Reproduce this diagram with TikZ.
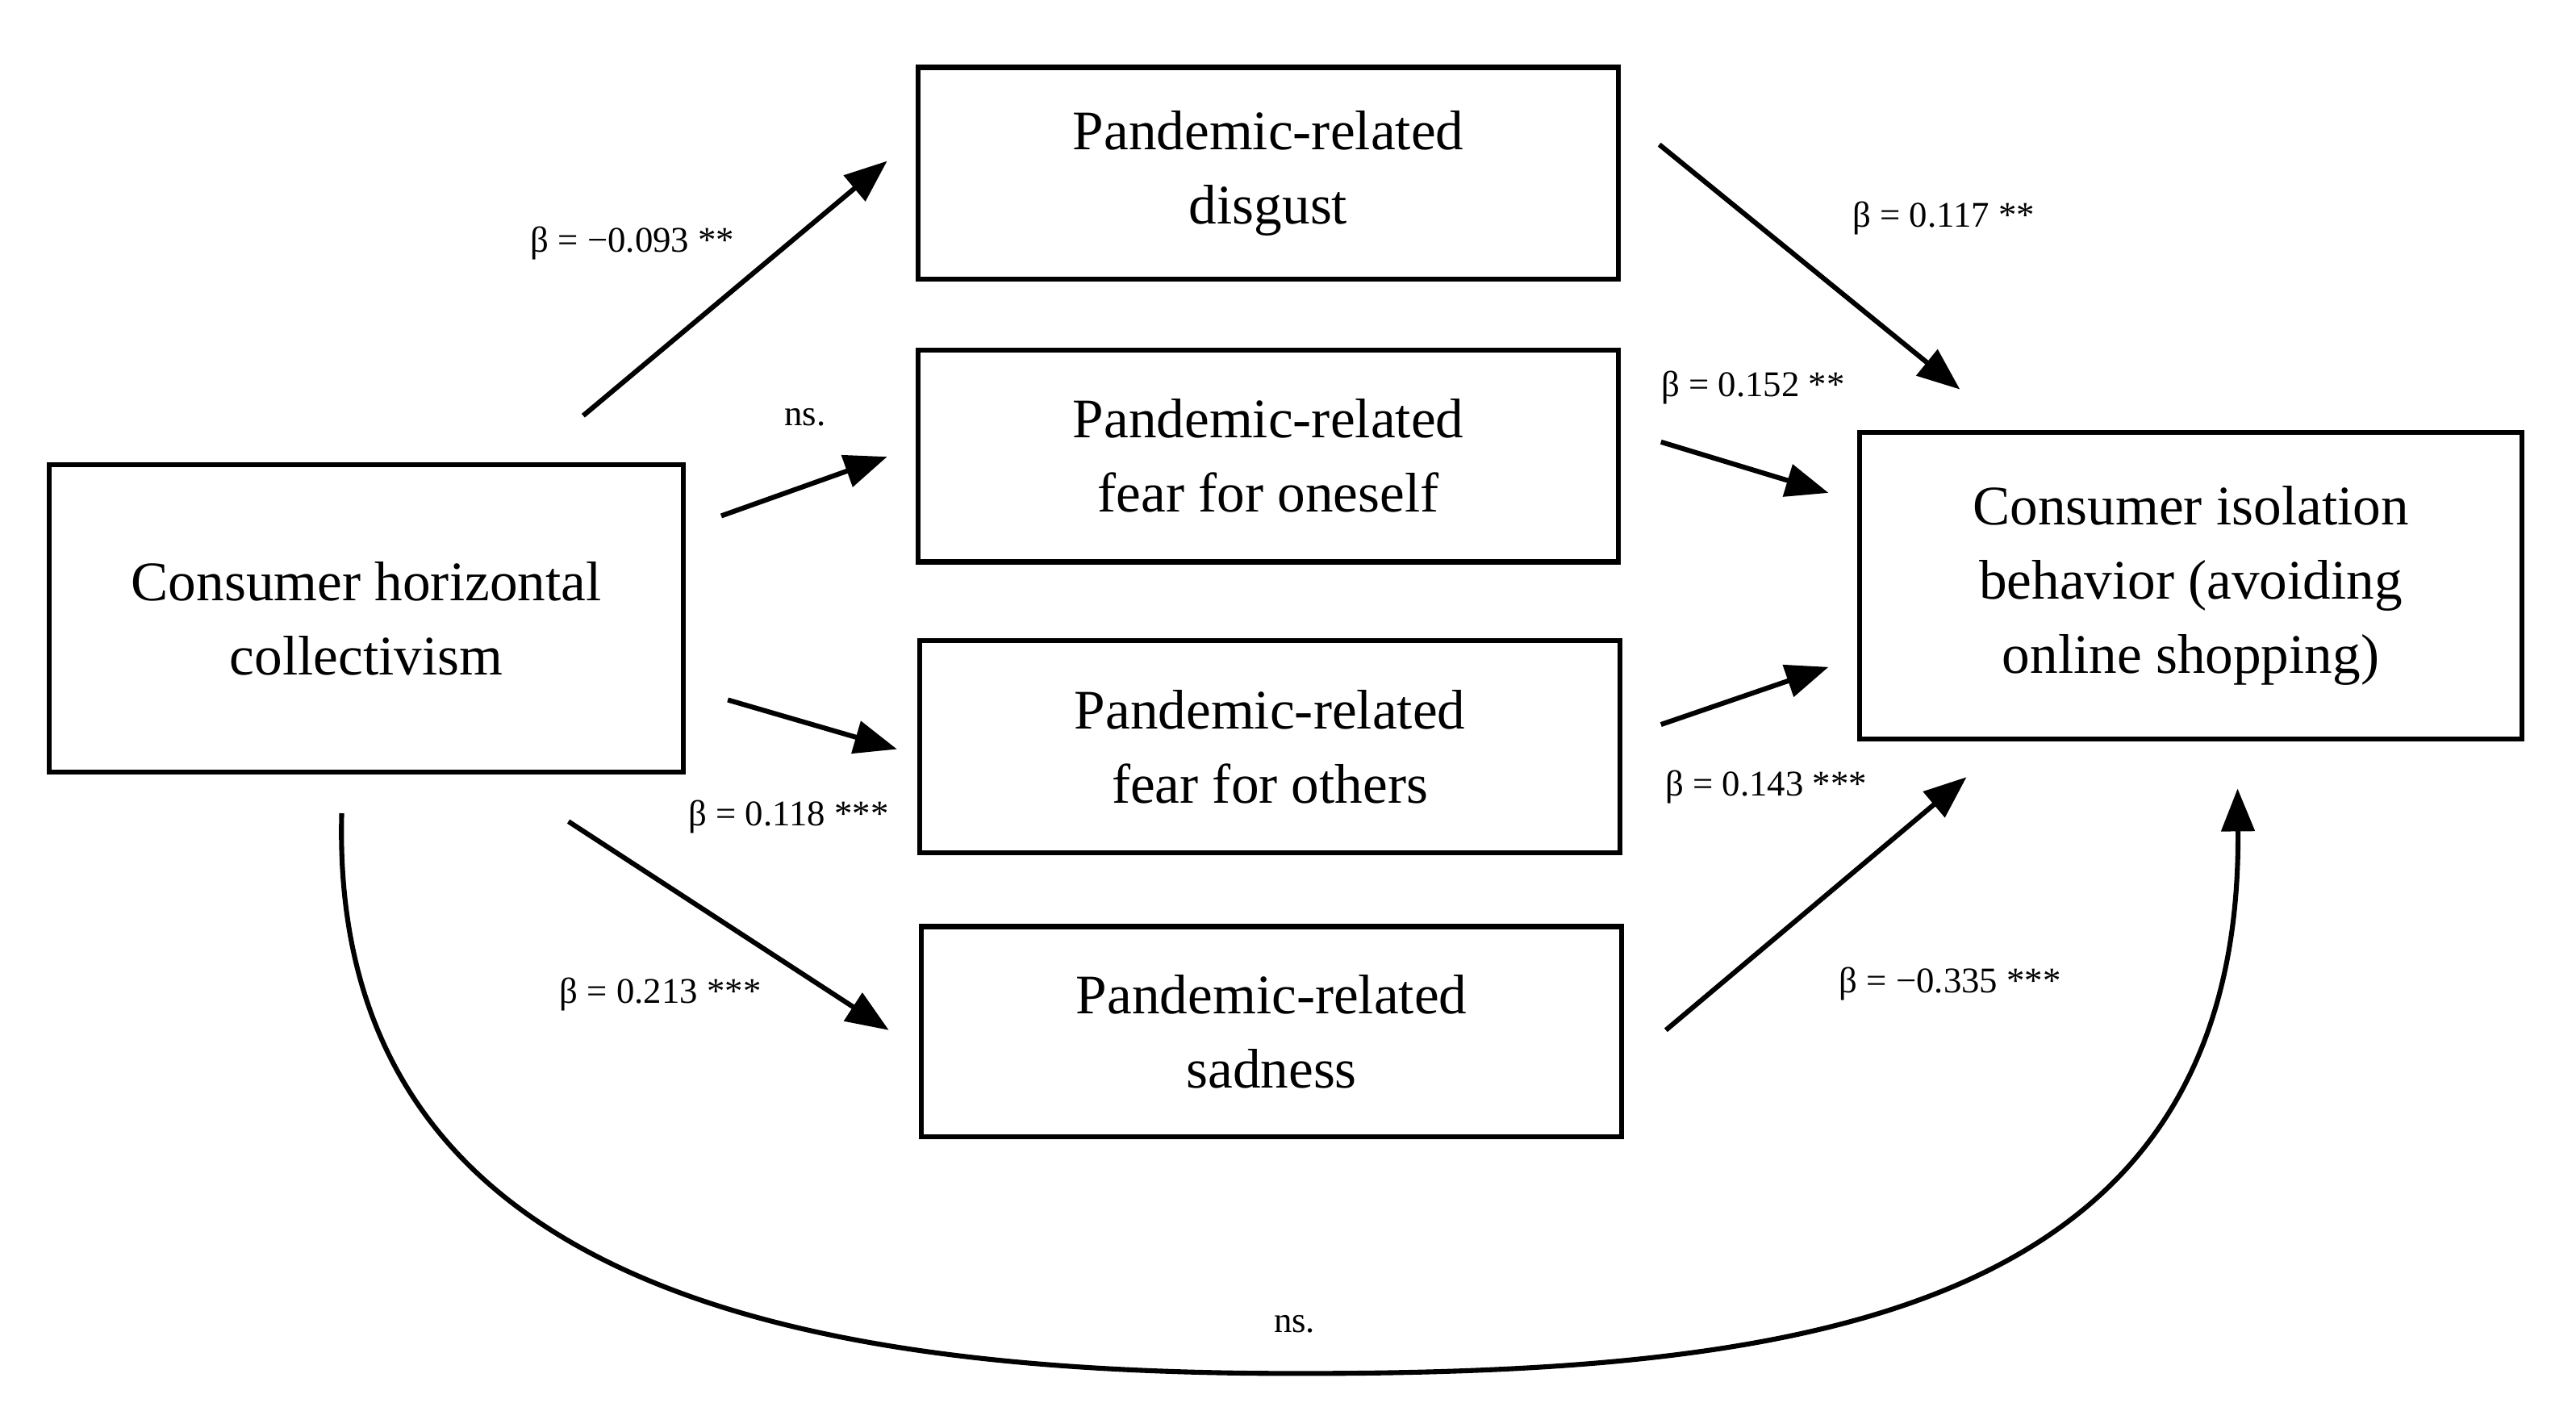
\documentclass[tikz,border=0pt]{standalone}
\usepackage{fontspec}
\setmainfont{Liberation Serif}
\usetikzlibrary{arrows.meta}
\begin{document}
\begin{tikzpicture}[x=0.5pt,y=-0.5pt,
 box/.style={draw,line width=1.5pt,inner sep=0pt,align=center,font=\fontsize{17}{22.5}\selectfont},
 arr/.style={line width=1.5pt,-{Triangle[length=13pt,width=10pt]}},
 lab/.style={font=\fontsize{11}{13}\selectfont}]
\useasboundingbox (0,0) rectangle (1568,869);
\node[box,minimum width=426*0.5pt,minimum height=129*0.5pt] (dis) at (772,105.5) {Pandemic-related\\disgust};
\node[box,minimum width=426*0.5pt,minimum height=129*0.5pt] (fo) at (772,277.5) {Pandemic-related\\fear for oneself};
\node[box,minimum width=426*0.5pt,minimum height=129*0.5pt] (ft) at (773,454.5) {Pandemic-related\\fear for others};
\node[box,minimum width=426*0.5pt,minimum height=128*0.5pt] (sad) at (774,628) {Pandemic-related\\sadness};
\node[box,minimum width=386*0.5pt,minimum height=187*0.5pt] (hc) at (223,376.5) {Consumer horizontal\\collectivism};
\node[box,minimum width=403*0.5pt,minimum height=187*0.5pt] (iso) at (1333.5,356.5) {Consumer isolation\\behavior (avoiding\\online shopping)};
\coordinate (a1) at (355,253); \coordinate (b1) at (540,98);
\coordinate (a2) at (439,314); \coordinate (b2) at (540,278);
\coordinate (a3) at (443,426); \coordinate (b3) at (546,456);
\coordinate (a4) at (346,500); \coordinate (b4) at (541,627);
\coordinate (c1) at (1010,88); \coordinate (d1) at (1193,237);
\coordinate (c2) at (1011,269); \coordinate (d2) at (1113,300);
\coordinate (c3) at (1011,441); \coordinate (d3) at (1113,406);
\coordinate (c4) at (1014,627); \coordinate (d4) at (1197,473);
\coordinate (e1) at (208,495); \coordinate (em) at (790,836); \coordinate (e2) at (1362,480);
\foreach \i in {1,2,3,4}{\draw[arr] (a\i) -- (b\i); \draw[arr] (c\i) -- (d\i);}
\draw[arr] (e1) .. controls (200,790) and (500,836) .. (em) .. controls (1100,836) and (1365,800) .. (e2);
\node[lab] at (385,148) {β = −0.093 **};
\node[lab] at (490,254) {ns.};
\node[lab] at (480,497) {β = 0.118 ***};
\node[lab] at (402,605) {β = 0.213 ***};
\node[lab] at (1183,133) {β = 0.117 **};
\node[lab] at (1067,236) {β = 0.152 **};
\node[lab] at (1075,479) {β = 0.143 ***};
\node[lab] at (1187,599) {β = −0.335 ***};
\node[lab] at (788,806) {ns.};
\end{tikzpicture}
\end{document}
